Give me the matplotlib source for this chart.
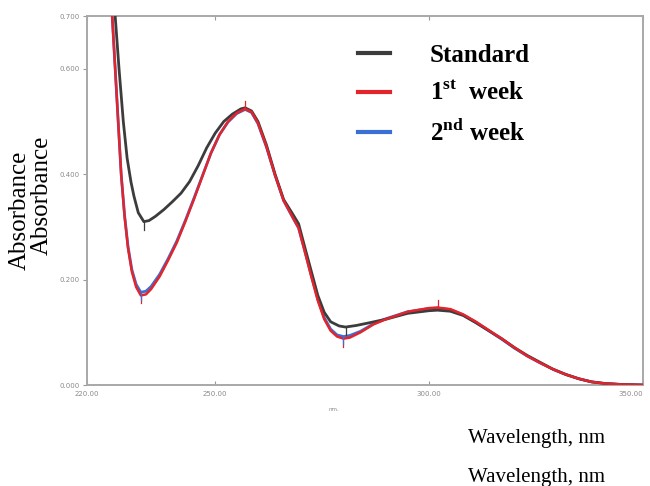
"""UV spectrum: standard vs 1st / 2nd week"""

import matplotlib

matplotlib.use("Agg")
import matplotlib.pyplot as plt  # noqa: E402

plt.rcParams["mathtext.fontset"] = "custom"
plt.rcParams["mathtext.rm"] = "Liberation Serif"
plt.rcParams["mathtext.bf"] = "Liberation Serif:bold"

# wavelength (nm) / absorbance
std_nm = [226.6, 227.5, 228.5, 229.4, 230.3, 231.0, 232.0, 233.3, 234.5, 236.0,
          238.0, 240.0, 242.0, 244.0, 246.0, 248.0, 250.0, 252.0, 254.0, 256.0,
          257.0, 258.5, 260.0, 262.0, 264.0, 266.0, 268.0, 269.5, 271.0, 272.5,
          274.0, 275.5, 277.0, 279.0, 280.5, 283.0, 286.0, 290.0, 295.0, 300.0,
          302.0, 305.0, 308.0, 311.0, 314.0, 317.0, 320.0, 323.0, 326.0, 329.0,
          332.0, 335.0, 338.0, 341.0, 345.0, 350.0]
std_abs = [0.700, 0.600, 0.500, 0.430, 0.385, 0.358, 0.327, 0.310, 0.312, 0.320,
           0.333, 0.348, 0.364, 0.386, 0.416, 0.450, 0.478, 0.500, 0.514, 0.524,
           0.526, 0.520, 0.500, 0.455, 0.400, 0.352, 0.326, 0.306, 0.260, 0.215,
           0.170, 0.138, 0.120, 0.112, 0.110, 0.113, 0.118, 0.125, 0.136, 0.141,
           0.142, 0.140, 0.132, 0.118, 0.103, 0.088, 0.071, 0.056, 0.043, 0.030,
           0.020, 0.012, 0.006, 0.003, 0.001, 0.000]

wk1_nm = [225.9, 226.6, 227.3, 228.0, 228.8, 229.6, 230.5, 231.5, 232.6, 233.8,
          235.0, 237.0, 239.0, 241.0, 243.0, 245.0, 247.0, 249.0, 251.0, 253.0,
          255.0, 257.0, 258.5, 260.0, 262.0, 264.0, 266.0, 268.0, 269.5, 271.0,
          272.5, 274.0, 275.5, 277.0, 278.5, 280.0, 281.5, 284.0, 287.0, 290.0,
          295.0, 300.0, 302.0, 305.0, 308.0, 311.0, 314.0, 317.0, 320.0, 323.0,
          326.0, 329.0, 332.0, 335.0, 338.0, 341.0, 345.0, 350.0]
wk1_abs = [0.700, 0.600, 0.500, 0.400, 0.320, 0.260, 0.215, 0.186, 0.170, 0.172,
           0.182, 0.206, 0.237, 0.270, 0.310, 0.352, 0.396, 0.440, 0.475, 0.500,
           0.516, 0.524, 0.518, 0.497, 0.452, 0.398, 0.350, 0.320, 0.298, 0.252,
           0.205, 0.160, 0.125, 0.103, 0.092, 0.088, 0.090, 0.100, 0.115, 0.125,
           0.139, 0.146, 0.147, 0.144, 0.134, 0.120, 0.104, 0.088, 0.071, 0.055,
           0.042, 0.030, 0.020, 0.012, 0.006, 0.003, 0.001, 0.000]

wk2_nm = wk1_nm
wk2_abs = [0.700, 0.600, 0.500, 0.400, 0.322, 0.263, 0.219, 0.191, 0.176, 0.178,
           0.187, 0.210, 0.240, 0.273, 0.312, 0.354, 0.397, 0.440, 0.475, 0.499,
           0.515, 0.523, 0.517, 0.496, 0.451, 0.398, 0.350, 0.320, 0.298, 0.253,
           0.207, 0.163, 0.128, 0.106, 0.095, 0.092, 0.094, 0.102, 0.116, 0.126,
           0.139, 0.145, 0.146, 0.143, 0.133, 0.119, 0.103, 0.087, 0.070, 0.055,
           0.042, 0.030, 0.020, 0.012, 0.006, 0.003, 0.001, 0.000]

# peak-pick marks (nm, abs, direction) per series
std_picks = [(233.3, 0.310, -1), (280.5, 0.110, -1)]
wk1_picks = [(232.6, 0.170, -1), (257.0, 0.524, 1), (280.0, 0.088, -1), (302.0, 0.147, 1)]
wk2_picks = [(232.6, 0.176, -1), (280.0, 0.092, -1)]

x_ticks = [220, 250, 300, 350]
y_ticks = [0.0, 0.2, 0.4, 0.6, 0.7]

fig = plt.figure(figsize=(6.5, 4.86), dpi=100)
ax = fig.add_axes([0.1338, 0.2078, 0.855, 0.759])

ax.plot(wk2_nm, wk2_abs, color="#3a6fd8", lw=2.0, label="2$^{\\mathbf{nd}}$ week", zorder=2)
ax.plot(std_nm, std_abs, color="#3c3c3c", lw=2.0, label="Standard", zorder=3)
ax.plot(wk1_nm, wk1_abs, color="#e3242b", lw=1.8, label="1$^{\\mathbf{st}}$  week", zorder=4)

for picks, col in [(std_picks, "#3c3c3c"), (wk1_picks, "#e3242b"), (wk2_picks, "#3a6fd8")]:
    for nm, a, d in picks:
        ax.plot([nm, nm], [a, a + d * 0.015], color=col, lw=0.9, zorder=5)

ax.set_xlim(220, 350)
ax.set_ylim(0, 0.7)
ax.set_xticks(x_ticks)
ax.set_xticklabels([f"{t:.2f}" for t in x_ticks])
ax.get_xticklabels()[-1].set_horizontalalignment("right")
ax.set_yticks(y_ticks)
ax.set_yticklabels([f"{t:.3f}" for t in y_ticks])
ax.tick_params(axis="x", direction="in", length=3, width=0.8, colors="#999999",
               labelsize=5, labelcolor="#8a8a8a", top=True, pad=4)
ax.tick_params(axis="y", direction="out", length=3, width=0.8, colors="#999999",
               labelsize=5, labelcolor="#8a8a8a", pad=2)
for s in ax.spines.values():
    s.set_color("#a8a8a8")
    s.set_linewidth(1.4)

ax.text(0.445, -0.06, "nm.", transform=ax.transAxes, fontsize=4, color="#8a8a8a",
        ha="center", va="top")

handles, labels = ax.get_legend_handles_labels()
order = [1, 2, 0]
leg = ax.legend([handles[i] for i in order], [labels[i] for i in order],
                loc="upper left", bbox_to_anchor=(345 / 650, 1 - 31 / 486),
                bbox_transform=fig.transFigure, frameon=False, handlelength=1.3,
                handletextpad=1.6, labelspacing=0.58, borderpad=0,
                prop={"family": "Liberation Serif", "weight": "bold", "size": 18})
for ln in leg.get_lines():
    ln.set_linewidth(3)

serif = "Liberation Serif"
fig.text(20 / 650, 1 - 210 / 486, "Absorbance", rotation=90, ha="center", va="center",
         fontsize=18, family=serif)
fig.text(42 / 650, 1 - 195 / 486, "Absorbance", rotation=90, ha="center", va="center",
         fontsize=18, family=serif)
fig.text(468 / 650, 1 - 438 / 486, "Wavelength, nm", ha="left", va="center",
         fontsize=15, family=serif)
fig.text(468 / 650, 1 - 477 / 486, "Wavelength, nm", ha="left", va="center",
         fontsize=15, family=serif)

fig.savefig("out.png", dpi=100)
